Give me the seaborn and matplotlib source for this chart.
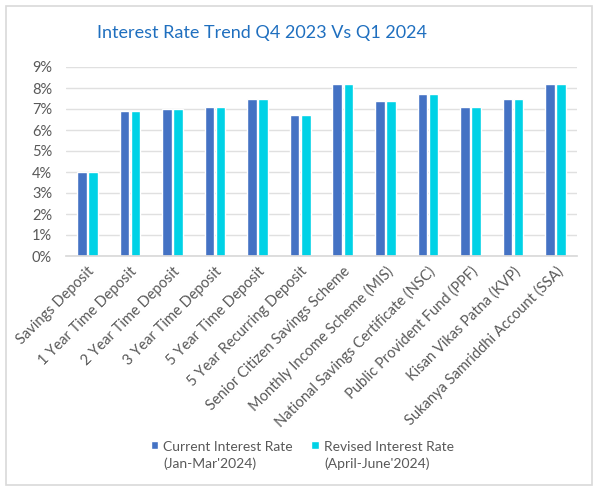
import matplotlib
matplotlib.use("Agg")
import matplotlib.pyplot as plt
import seaborn as sns
import pandas as pd
from matplotlib.patches import Rectangle
from matplotlib.ticker import FuncFormatter
from matplotlib.legend_handler import HandlerPatch

categories = ["Savings Deposit", "1 Year Time Deposit", "2 Year Time Deposit",
              "3 Year Time Deposit", "5 Year Time Deposit", "5 Year Recurring Deposit",
              "Senior Citizen Savings Scheme", "Monthly Income Scheme (MIS)",
              "National Savings Certificate (NSC)", "Public Provident Fund (PPF)",
              "Kisan Vikas Patna (KVP)", "Sukanya Samriddhi Account (SSA)"]
current_rate = [4.0, 6.9, 7.0, 7.1, 7.5, 6.7, 8.2, 7.4, 7.7, 7.1, 7.5, 8.2]
revised_rate = [4.0, 6.9, 7.0, 7.1, 7.5, 6.7, 8.2, 7.4, 7.7, 7.1, 7.5, 8.2]
series_names = ["Current Interest Rate\n(Jan-Mar'2024)", "Revised Interest Rate\n(April-June'2024)"]
title = "Interest Rate Trend Q4 2023 Vs Q1 2024"

df = pd.DataFrame({
    "category": categories * 2,
    "rate": current_rate + revised_rate,
    "series": [series_names[0]] * len(categories) + [series_names[1]] * len(categories),
})

sns.set_theme(style="white")
plt.rcParams["font.family"] = ["Lato", "DejaVu Sans"]

fig = plt.figure(figsize=(6, 4.91), dpi=100)
ax = fig.add_axes([66/600, 1 - 256/491, (577-66)/600, (256-67)/491])

palette = {series_names[0]: "#4472C4", series_names[1]: "#00D2E6"}
sns.barplot(data=df, x="category", y="rate", hue="series", palette=palette,
            width=0.52, gap=0.14, ax=ax, saturation=1, legend=True)

ax.set_ylim(0, 9)
ax.set_yticks(range(0, 10))
ax.yaxis.set_major_formatter(FuncFormatter(lambda v, p: f"{int(v)}%"))
ax.grid(axis="y", color="#E0E0E0", linewidth=1)
ax.set_axisbelow(True)
for s in ["top", "right", "left"]:
    ax.spines[s].set_visible(False)
ax.spines["bottom"].set_color("#D9D9D9")
ax.set_xlabel("")
ax.set_ylabel("")
ax.tick_params(axis="both", length=0, colors="#595959", labelsize=10.5)
ax.tick_params(axis="y", pad=10)
ax.tick_params(axis="x", pad=6)
ax.set_xticks(range(len(categories)))
ax.set_xticklabels(categories, rotation=45, ha="right", rotation_mode="anchor", color="#595959")


def top_square(legend, orig_handle, xdescent, ydescent, width, height, fontsize):
    return Rectangle((-xdescent, -ydescent + 0.75 * fontsize), width, height)


leg = ax.legend(loc="upper left", bbox_to_anchor=(145/600, 1 - 435/491), bbox_transform=fig.transFigure,
                ncol=2, frameon=False, fontsize=10, handlelength=0.55, handleheight=0.55,
                handletextpad=0.35, columnspacing=1.35, labelcolor="#595959", borderaxespad=0,
                handler_map={Rectangle: HandlerPatch(patch_func=top_square)})
for t in leg.get_texts():
    t.set_linespacing(1.45)

fig.text(262/600, 1 - 33/491, title, ha="center", va="center", color="#1F6FBF", fontsize=13)

fig.patches.append(Rectangle((6/600, 1 - 485/491), 586/600, 479/491, transform=fig.transFigure,
                             fill=False, edgecolor="#D9D9D9", linewidth=1.2))

fig.savefig("out.png", dpi=100)
